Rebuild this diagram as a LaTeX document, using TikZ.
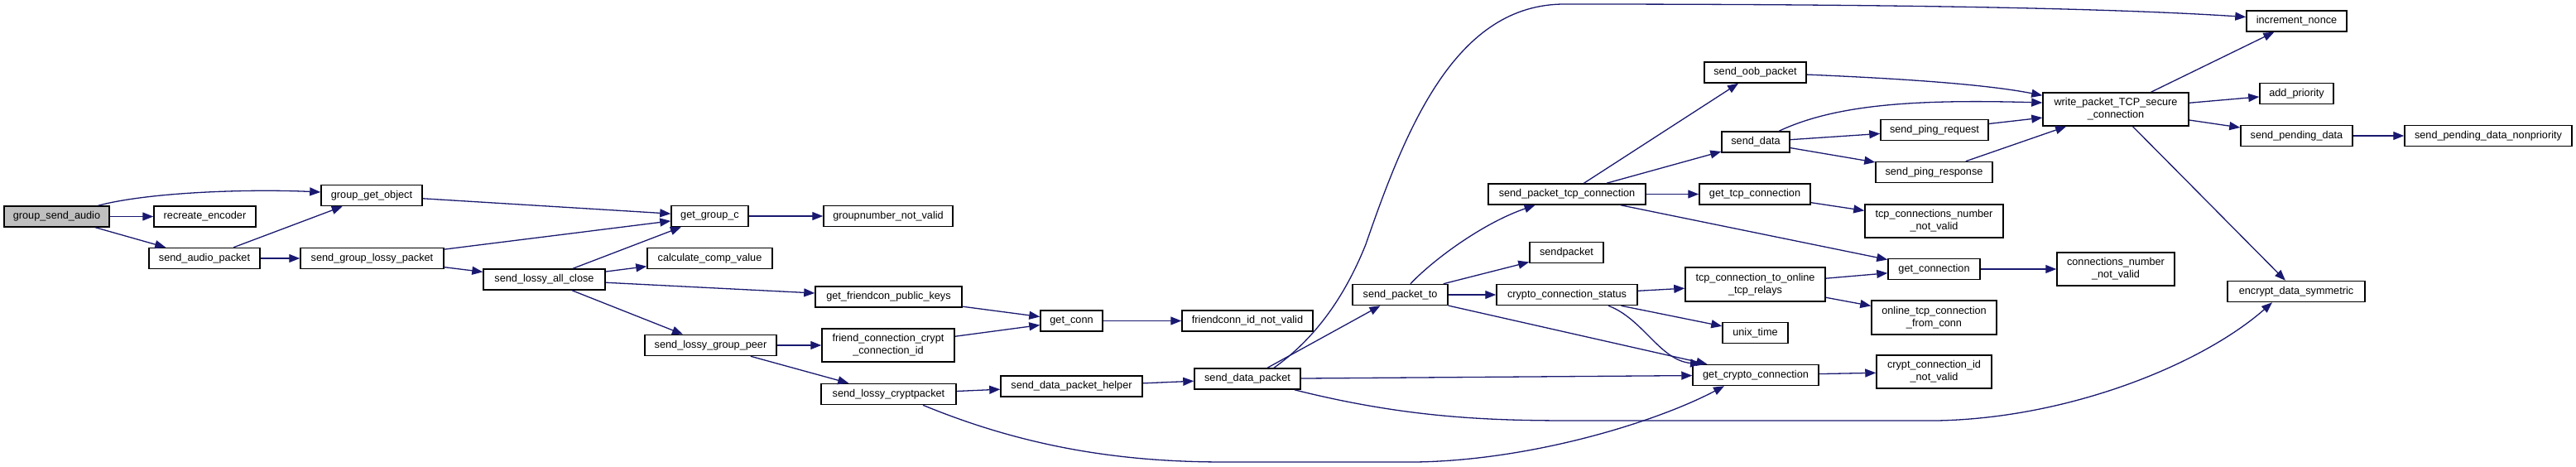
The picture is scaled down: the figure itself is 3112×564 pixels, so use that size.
\documentclass[tikz,border=0pt]{standalone}
\usepackage{fontspec}
\setmainfont{Liberation Sans}
\usetikzlibrary{arrows.meta}
\definecolor{edgec}{HTML}{191970}
\begin{document}
\begin{tikzpicture}[x=1pt,y=-1pt,
 box/.style={draw=black, line width=1.5pt, fill=white, inner sep=0pt, minimum height=25pt, font=\fontsize{12.7}{15}\selectfont, align=center},
 twoline/.style={minimum height=40pt},
 edge/.style={draw=edgec, line width=1.3pt, -{Triangle[length=13pt,width=10pt]}}]
\useasboundingbox (0,0) rectangle (3112,564);
% nodes
\node[box,fill=gray!50,minimum width=127pt] (gsa) at (68.5,261.5) {group\_send\_audio};
\node[box,minimum width=123pt] (re) at (247.5,261.5) {recreate\_encoder};
\node[box,minimum width=122pt] (ggo) at (449,236) {group\_get\_object};
\node[box,minimum width=134pt] (sap) at (247,312) {send\_audio\_packet};
\node[box,minimum width=173pt] (sglp) at (449.5,312) {send\_group\_lossy\_packet};
\node[box,minimum width=147pt] (slac) at (657.5,337.5) {send\_lossy\_all\_close};
\node[box,minimum width=93pt] (ggc) at (857.5,261) {get\_group\_c};
\node[box,minimum width=156pt] (gnnv) at (1073,261) {groupnumber\_not\_valid};
\node[box,minimum width=151pt] (ccv) at (857.5,312) {calculate\_comp\_value};
\node[box,minimum width=177pt] (gfpk) at (1073.5,358.5) {get\_friendcon\_public\_keys};
\node[box,minimum width=159pt] (slgp) at (858.5,417) {send\_lossy\_group\_peer};
\node[box,twoline,minimum width=160pt] (fcci) at (1073,417) {friend\_connection\_crypt\\\_connection\_id};
\node[box,minimum width=163pt] (slcp) at (1073.5,476) {send\_lossy\_cryptpacket};
\node[box,minimum width=75pt] (gc) at (1294.5,387.5) {get\_conn};
\node[box,minimum width=158pt] (fcinv) at (1507,387.5) {friendconn\_id\_not\_valid};
\node[box,minimum width=171pt] (sdph) at (1294.5,466.5) {send\_data\_packet\_helper};
\node[box,minimum width=128pt] (sdp) at (1507,457.5) {send\_data\_packet};
\node[box,minimum width=115pt] (spt) at (1691.5,356) {send\_packet\_to};
\node[box,minimum width=190pt] (sptc) at (1893,234.5) {send\_packet\_tcp\_connection};
\node[box,minimum width=89pt] (sp) at (1892.5,305) {sendpacket};
\node[box,minimum width=170pt] (ccs) at (1893,356) {crypto\_connection\_status};
\node[box,minimum width=123pt] (sop) at (2120.5,87.5) {send\_oob\_packet};
\node[box,minimum width=82pt] (sd) at (2121,171.5) {send\_data};
\node[box,minimum width=134pt] (gtc) at (2120,234.5) {get\_tcp\_connection};
\node[box,twoline,minimum width=169pt,minimum height=41pt] (tctor) at (2120.5,343.5) {tcp\_connection\_to\_online\\\_tcp\_relays};
\node[box,minimum width=79pt] (ut) at (2120.5,402) {unix\_time};
\node[box,minimum width=152pt] (gcc) at (2121,453) {get\_crypto\_connection};
\node[box,minimum width=130pt] (spreq) at (2337,157) {send\_ping\_request};
\node[box,minimum width=141pt] (spres) at (2336.5,208) {send\_ping\_response};
\node[box,twoline,minimum width=167pt] (tcnnv) at (2336.5,267) {tcp\_connections\_number\\\_not\_valid};
\node[box,minimum width=111pt] (gcon) at (2336.5,325) {get\_connection};
\node[box,twoline,minimum width=151pt,minimum height=41pt] (otcfc) at (2336.5,383.5) {online\_tcp\_connection\\\_from\_conn};
\node[box,twoline,minimum width=139pt] (ccinv) at (2336.5,449) {crypt\_connection\_id\\\_not\_valid};
\node[box,twoline,minimum width=176pt] (wpts) at (2556,132) {write\_packet\_TCP\_secure\\\_connection};
\node[box,twoline,minimum width=142pt] (cnnv) at (2556,325) {connections\_number\\\_not\_valid};
\node[box,minimum width=121pt] (in) at (2774.5,25.5) {increment\_nonce};
\node[box,minimum width=89pt] (ap) at (2774.5,113) {add\_priority};
\node[box,minimum width=135pt] (spd) at (2774.5,164) {send\_pending\_data};
\node[box,minimum width=166pt] (eds) at (2774,352) {encrypt\_data\_symmetric};
\node[box,minimum width=202pt] (spdn) at (3006,164) {send\_pending\_data\_nonpriority};
% edges
\draw[edge] (gsa) .. controls (180,232) and (300,228) .. ([yshift=4pt]ggo.west);
\draw[edge] (gsa) -- (re);
\draw[edge] (gsa) -- (sap);
\draw[edge] (sap) -- (ggo);
\draw[edge] (sap) -- (sglp);
\draw[edge] (ggo) -- (ggc);
\draw[edge] (sglp) -- (ggc);
\draw[edge] (sglp) -- (slac);
\draw[edge] (slac) -- (ggc);
\draw[edge] (slac) -- (ccv);
\draw[edge] (slac) -- (gfpk);
\draw[edge] (slac) -- (slgp);
\draw[edge] (ggc) -- (gnnv);
\draw[edge] (gfpk) -- (gc);
\draw[edge] (fcci) -- (gc);
\draw[edge] (gc) -- (fcinv);
\draw[edge] (slgp) -- (fcci);
\draw[edge] (slgp) -- (slcp);
\draw[edge] (slcp) -- (sdph);
\draw[edge] ([xshift=41.5pt]slcp.south) .. controls (1250,545) and (1370,558) .. (1480,558) -- (1710,558) .. controls (1850,556) and (2000,510) .. ([xshift=-38pt]gcc.south);
\draw[edge] (sdph) -- (sdp);
\draw[edge] ([xshift=32pt]sdp.north) .. controls (1580,415) and (1620,370) .. (1650,295) .. controls (1700,150) and (1760,5) .. (1890,5) .. controls (2300,5) and (2550,10) .. ([yshift=5pt]in.west);
\draw[edge] (sdp) -- (spt);
\draw[edge] (sdp) -- (gcc);
\draw[edge] ([xshift=-8pt]sdp.south east) .. controls (1700,505) and (1800,508) .. (1900,508) -- (2340,508) .. controls (2500,505) and (2660,440) .. ([xshift=-29pt]eds.south);
\draw[edge] (spt) .. controls (1730,315) and (1790,270) .. (sptc);
\draw[edge] (spt) -- (sp);
\draw[edge] (spt) -- (ccs);
\draw[edge] (spt) -- (gcc);
\draw[edge] (ccs) -- (tctor);
\draw[edge] (ccs) -- (ut);
\draw[edge] ([xshift=50pt]ccs.south) .. controls (1985,385) and (2005,435) .. ([xshift=-66pt]gcc.north);
\draw[edge] (tctor) -- (gcon);
\draw[edge] (tctor) -- (otcfc);
\draw[edge] (gcon) -- (cnnv);
\draw[edge] (gcc) -- (ccinv);
\draw[edge] (sptc) -- (sop);
\draw[edge] (sptc) -- (sd);
\draw[edge] (sptc) -- (gtc);
\draw[edge] (sptc) -- (gcon);
\draw[edge] (gtc) -- (tcnnv);
\draw[edge] (sop) .. controls (2300,95) and (2400,102) .. ([yshift=-4pt]wpts.north west);
\draw[edge] (sd) .. controls (2220,125) and (2320,120) .. ([yshift=8pt]wpts.west);
\draw[edge] (sd) -- (spreq);
\draw[edge] (sd) -- (spres);
\draw[edge] (spreq) -- (wpts);
\draw[edge] (spres) -- (wpts);
\draw[edge] (wpts) -- (in);
\draw[edge] (wpts) -- (ap);
\draw[edge] (wpts) -- (spd);
\draw[edge] (wpts) -- (eds);
\draw[edge] (spd) -- (spdn);
\end{tikzpicture}
\end{document}
